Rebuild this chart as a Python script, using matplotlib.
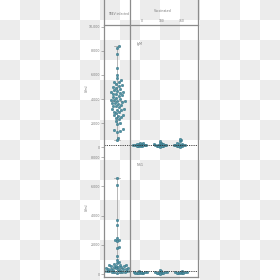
import numpy as np
import matplotlib
matplotlib.use("Agg")
import matplotlib.pyplot as plt
from matplotlib.lines import Line2D
from matplotlib.colors import ListedColormap

# ---------------- data ----------------
groups_right = ["0", "180", "360"]
col_headers = ["TBEV infected", "Vaccinated"]
row_labels = ["IgM", "NS1"]
ylabels = ["U/ml", "U/ml"]
threshold = 200

top_tbev = [8420, 8230, 7780, 6560, 6030, 5730, 5550, 5450, 5400, 5250, 5150, 5100,
            5000, 4950, 4800, 4750, 4700, 4600, 4550, 4500, 4450, 4400, 4300, 4250,
            4150, 4100, 4000, 3950, 3900, 3850, 3800, 3750, 3700, 3650, 3600, 3500,
            3450, 3400, 3300, 3200, 3150, 3100, 3050, 2950, 2900, 2800, 2700, 2650,
            2600, 2500, 2450, 2350, 2200, 2050, 1950, 1500, 1400, 1350, 1300, 800, 560]
top_vac = [
    [60, 100, 150, 190, 230, 270, 320, 90, 140, 220, 260, 110, 200, 350, 170],
    [30, 90, 130, 170, 210, 250, 310, 380, 500, 80, 160, 240, 140, 60, 200, 280],
    [40, 90, 130, 170, 210, 270, 340, 480, 560, 640, 100, 180, 260, 150, 220],
]
bot_tbev = [6540, 6080, 3690, 3330, 2440, 2350, 2300, 2250, 1850, 1750, 1230, 960,
            800, 740, 690, 640, 600, 560, 520, 480, 450, 420, 400, 380, 350, 330,
            300, 280, 260, 240, 220, 200, 180, 160, 140, 120, 100, 620, 540, 460,
            320, 300, 250, 200, 150, 430, 370, 270, 210, 170]
bot_vac = [
    [40, 80, 120, 160, 70, 110, 50, 150, 100, 60, 180],
    [30, 70, 110, 150, 230, 60, 100, 140, 90, 120, 300],
    [40, 80, 120, 160, 60, 100, 140, 90, 200, 130],
]
top_ticks = [0, 2000, 4000, 6000, 8000, 10000]
bot_ticks = [0, 2000, 4000, 6000, 8000]

# ---------------- figure ----------------
W = H = 280
fig = plt.figure(figsize=(2.8, 2.8), dpi=100)
fig.patch.set_facecolor("white")

bg = fig.add_axes([0, 0, 1, 1], zorder=-10)
n = 14
chk = (np.add.outer(np.arange(n), np.arange(n)) % 2).astype(float)
bg.imshow(chk, cmap=ListedColormap(["white", "#ececec"]), extent=[0, W, H, 0],
          interpolation="nearest", aspect="auto")
bg.set_xlim(0, W); bg.set_ylim(H, 0); bg.axis("off")

def px_axes(x0, y0, x1, y1):
    return fig.add_axes([x0 / W, 1 - y1 / H, (x1 - x0) / W, (y1 - y0) / H])

XL, XM, XR = 104, 130, 198
Y0, YH, YM, YB = 0, 25, 152, 277

ax_tl = px_axes(XL, YH, XM, YM)
ax_tr = px_axes(XM, YH, XR, YM)
ax_bl = px_axes(XL, YM, XM, YB)
ax_br = px_axes(XM, YM, XR, YB)

top_ylim = (-400, 10150)
bot_ylim = (-205, 8342)

def set_limits():
    ax_tl.set_xlim(-0.5, 0.5); ax_bl.set_xlim(-0.5, 0.5)
    ax_tr.set_xlim(-0.5, 2.9); ax_br.set_xlim(-0.5, 2.9)
    ax_tl.set_ylim(*top_ylim); ax_tr.set_ylim(*top_ylim)
    ax_bl.set_ylim(*bot_ylim); ax_br.set_ylim(*bot_ylim)

for ax in (ax_tl, ax_tr, ax_bl, ax_br):
    ax.set_facecolor("none")
    for s in ax.spines.values():
        s.set_visible(False)
set_limits()

point_col = "#4f93a6"
edge_col = "#2d6b7b"

def swarm(ax, xc, vals, D):
    vals = np.asarray(vals, float)
    tr = ax.transData
    ypx = tr.transform(np.column_stack([np.full(len(vals), xc), vals]))[:, 1]
    xcp = tr.transform((xc, 0))[0]
    placed = []
    xs = np.zeros(len(vals))
    for i in np.argsort(ypx):
        y = ypx[i]
        cands = [0.0]
        for px, py in placed:
            dy = y - py
            if abs(dy) < D:
                dx = np.sqrt(D * D - dy * dy)
                cands += [px - xcp + dx, px - xcp - dx]
        cands.sort(key=abs)
        for c in cands:
            if all((xcp + c - px) ** 2 + (y - py) ** 2 >= D * D - 1e-6 for px, py in placed):
                break
        placed.append((xcp + c, y))
        xs[i] = tr.inverted().transform((xcp + c, y))[0]
    ax.scatter(xs, vals, s=3.2, color=point_col, edgecolors=edge_col, linewidths=0.3,
               zorder=3)

box_kw = dict(widths=0.45, showfliers=False, showbox=False, showcaps=True,
              whiskerprops=dict(color="#9a9a9a", lw=0.5),
              capprops=dict(color="#9a9a9a", lw=0.5),
              medianprops=dict(color="#9a9a9a", lw=0.5), whis=(0, 100))

ax_tl.boxplot([top_tbev], positions=[0], **box_kw)
ax_bl.boxplot([bot_tbev], positions=[0], **box_kw)
set_limits()
swarm(ax_tl, 0, top_tbev, 3.1)
swarm(ax_bl, 0, bot_tbev, 2.6)
for k in range(3):
    swarm(ax_tr, k, top_vac[k], 1.7)
    swarm(ax_br, k, bot_vac[k], 1.7)
set_limits()

for ax in (ax_tl, ax_tr, ax_bl, ax_br):
    ax.set_xticks([])
    ax.axhline(threshold, color="#333333", lw=0.6, ls=(0, (1.5, 1.2)), zorder=4)
ax_tr.set_yticks([]); ax_br.set_yticks([])

tick_col = "#7a7a7a"
for ax, ticks in ((ax_tl, top_ticks), (ax_bl, bot_ticks)):
    ax.set_yticks(ticks)
    ax.set_yticklabels([f"{t:,}" for t in ticks])
    ax.tick_params(axis="y", length=2, width=0.4, color=tick_col, labelsize=2.3,
                   labelcolor=tick_col, pad=0.8)

line_col = "#8c8c8c"
def fline(x0, y0, x1, y1, lw=0.9):
    fig.add_artist(Line2D([x0 / W, x1 / W], [1 - y0 / H, 1 - y1 / H],
                          transform=fig.transFigure, color=line_col, lw=lw))
fline(XL, Y0, XL, YB)
fline(XM, Y0, XM, YB)
fline(XR, Y0, XR, YB)
fline(XL, YH, XR, YH)
fline(XL, YB, XR, YB)

txt_col = "#777777"
fig.text(118 / W, 1 - 14 / H, col_headers[0], ha="center", va="center", fontsize=2.2,
         color=txt_col)
fig.text(163 / W, 1 - 11 / H, col_headers[1], ha="center", va="center", fontsize=2.3,
         color=txt_col)
for k, g in enumerate(groups_right):
    xp = ax_tr.transData.transform((k, 0))[0]
    fig.text(xp / W + 0.005, 1 - 21.5 / H, g, ha="center", va="center", fontsize=2.2,
             color=txt_col)

fig.text(140 / W, 1 - 44 / H, row_labels[0], ha="center", va="center", fontsize=2.4,
         color=txt_col)
fig.text(140 / W, 1 - 165 / H, row_labels[1], ha="center", va="center", fontsize=2.4,
         color=txt_col)
fig.text(87 / W, 1 - 88 / H, ylabels[0], ha="center", va="center", rotation=90,
         fontsize=2.3, color=txt_col)
fig.text(87 / W, 1 - 207 / H, ylabels[1], ha="center", va="center", rotation=90,
         fontsize=2.3, color=txt_col)

fig.savefig("out.png", dpi=100)
